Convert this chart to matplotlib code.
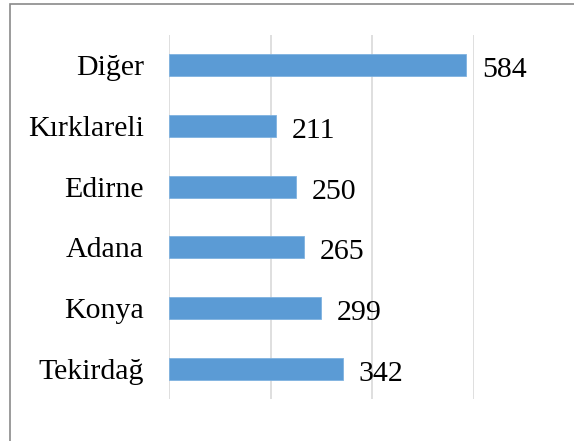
import matplotlib
matplotlib.use("Agg")
import matplotlib.pyplot as plt
from matplotlib.patches import Rectangle

# categories listed bottom to top
cities = ["Tekirdağ", "Konya", "Adana", "Edirne", "Kırklareli", "Diğer"]
counts = [342, 299, 265, 250, 211, 584]
xticks = [0, 200, 400, 600]

plt.rcParams['font.family'] = ['Liberation Serif', 'DejaVu Serif']

fig = plt.figure(figsize=(5.74, 4.41), dpi=100)
ax = fig.add_axes([0.2944, 0.0952, 0.5314, 0.8254])

y = range(len(cities))
ax.barh(y, counts, height=0.36, color='#5B9BD5', edgecolor='#7FB2E0', linewidth=0.6, zorder=3)

for yi, v in zip(y, counts):
    ax.annotate(str(v), (v, yi), xytext=(11.5, -1.5), textcoords='offset points',
                va='center_baseline', ha='left', fontsize=21.5, color='black')

ax.set_xlim(0, 600)
ax.set_ylim(-0.5, len(cities) - 0.5)
ax.set_xticks(xticks)
ax.set_xticklabels([])
ax.set_yticks(list(y))
ax.set_yticklabels(cities, fontsize=21.5)
for lbl in ax.get_yticklabels():
    lbl.set_verticalalignment('center_baseline')
ax.tick_params(axis='y', length=0, pad=18)
ax.tick_params(axis='x', length=0)
ax.grid(axis='x', color='#D9D9D9', linewidth=1.2, zorder=0)
for s in ax.spines.values():
    s.set_visible(False)

# outer frame (partially cut off on right/bottom)
fig.patches.append(Rectangle((10 / 574, -0.05), 1.2, 1 - 3.5 / 441 + 0.05,
                             transform=fig.transFigure, fill=False,
                             edgecolor='#8A8A8A', linewidth=1.2))

fig.savefig("out.png", dpi=100)
